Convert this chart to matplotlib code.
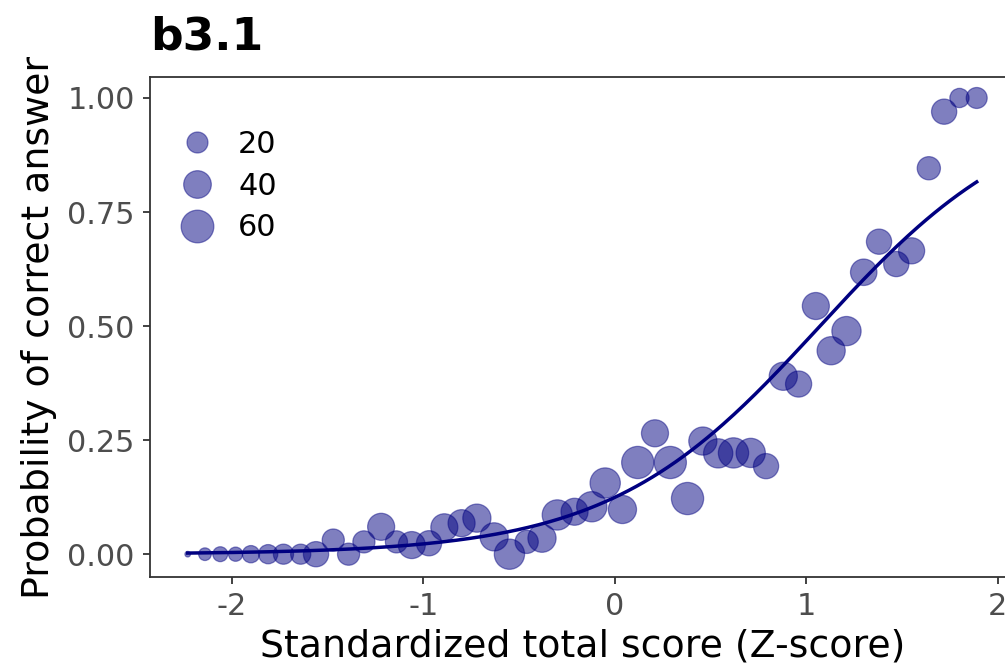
import numpy as np
import matplotlib.pyplot as plt
from matplotlib.lines import Line2D

# item b3.1: observed proportion correct per total-score group
z_score = [-2.23, -2.14, -2.06, -1.98, -1.90, -1.81, -1.73, -1.64, -1.56, -1.47,
           -1.39, -1.31, -1.22, -1.14, -1.06, -0.97, -0.89, -0.80, -0.72, -0.63,
           -0.55, -0.46, -0.38, -0.30, -0.21, -0.12, -0.05, 0.04, 0.12, 0.21,
           0.29, 0.38, 0.46, 0.54, 0.62, 0.71, 0.79, 0.88, 0.96, 1.05,
           1.13, 1.21, 1.30, 1.38, 1.47, 1.55, 1.64, 1.72, 1.80, 1.89]
prop_correct = [0.0, 0.0, 0.0, 0.0, 0.0, 0.0, 0.0, 0.0, 0.0, 0.031,
                0.0, 0.027, 0.060, 0.027, 0.020, 0.024, 0.059, 0.068, 0.079, 0.038,
                0.0, 0.027, 0.035, 0.086, 0.093, 0.104, 0.156, 0.098, 0.201, 0.265,
                0.201, 0.122, 0.248, 0.221, 0.222, 0.222, 0.193, 0.390, 0.373, 0.544,
                0.446, 0.489, 0.618, 0.685, 0.636, 0.665, 0.846, 0.970, 1.0, 1.0]
n_students = [1, 5, 8, 7, 12, 16, 18, 18, 32, 23,
              23, 23, 38, 23, 38, 32, 38, 38, 42, 42,
              50, 26, 42, 50, 38, 50, 50, 42, 58, 38,
              58, 58, 42, 46, 50, 46, 32, 42, 35, 38,
              42, 46, 36, 32, 32, 35, 26, 32, 16, 20]

# logistic fit on the z-score
fit_intercept = -1.95
fit_slope = 1.82

legend_counts = [20, 40, 60]

navy = '#000080'
base = 27.3


def point_diameter(n):
    # area-style size scale, result in points
    n = np.asarray(n, dtype=float)
    return 5.6 * (1 + 5 * np.sqrt((n - 1) / 63)) * 0.72


fig = plt.figure(figsize=(10.05, 6.63), dpi=100)
ax = fig.add_axes([150 / 1005, 86 / 663, 865 / 1005, 500 / 663])

ax.scatter(z_score, prop_correct, s=point_diameter(n_students) ** 2,
           facecolor=(0, 0, 0.5, 0.5), edgecolor=(0, 0, 0.5, 0.45),
           linewidth=0.9, zorder=2)

zz = np.linspace(min(z_score), max(z_score), 300)
ax.plot(zz, 1 / (1 + np.exp(-(fit_intercept + fit_slope * zz))),
        color=navy, linewidth=2.5, zorder=3)

ax.set_xlim(-2.427, 2.09)
ax.set_ylim(-0.05, 1.046)
ax.set_xticks([-2, -1, 0, 1, 2])
ax.set_xticklabels(['-2', '-1', '0', '1', '2'])
ax.set_yticks([0, 0.25, 0.5, 0.75, 1.0])
ax.set_yticklabels(['0.00', '0.25', '0.50', '0.75', '1.00'])

for sp in ax.spines.values():
    sp.set_color('#333333')
    sp.set_linewidth(1.3)
ax.tick_params(axis='both', length=5, width=1.3, color='#333333',
               labelcolor='#4d4d4d', labelsize=base * 0.8, pad=6)

ax.set_xlabel('Standardized total score (Z-score)', fontsize=base, labelpad=5)
ax.set_ylabel('Probability of correct answer', fontsize=base, va='center')
ax.yaxis.set_label_coords(-0.128, 0.5)
ax.set_title('b3.1', loc='left', fontsize=base * 1.2, fontweight='bold', pad=20)

handles = [Line2D([], [], linestyle='none', marker='o',
                  markersize=float(point_diameter(c)),
                  markerfacecolor=(0, 0, 0.5, 0.5),
                  markeredgecolor=(0, 0, 0.5, 0.45), markeredgewidth=0.9)
           for c in legend_counts]
ax.legend(handles, [str(c) for c in legend_counts], loc='upper left',
          bbox_to_anchor=(0.037, 0.894), frameon=False, fontsize=base * 0.8,
          handlelength=1.0, handletextpad=0.85, labelspacing=0.42,
          borderpad=0, borderaxespad=0)

fig.savefig('out.png', dpi=100)
